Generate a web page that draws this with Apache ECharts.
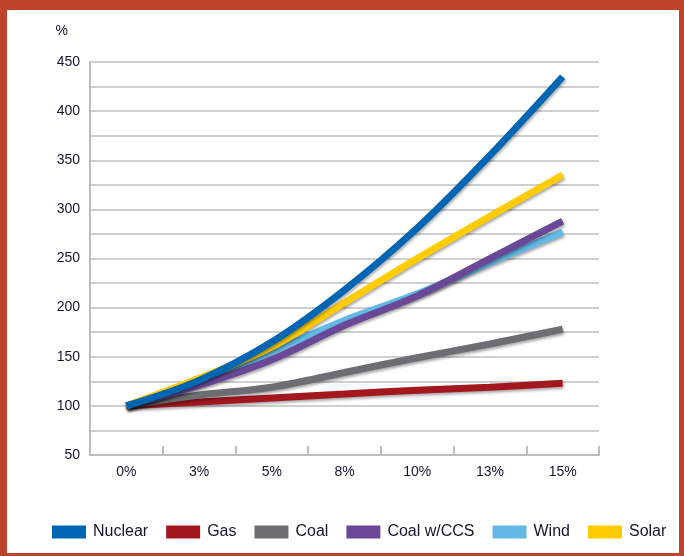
<!DOCTYPE html>
<html>
<head>
<meta charset="utf-8">
<script src="https://cdn.jsdelivr.net/npm/echarts@6/dist/echarts.min.js"></script>
<style>
html,body{margin:0;padding:0;width:684px;height:556px;background:#BF432A;overflow:hidden;}
#chart{position:absolute;left:7px;top:10px;width:672px;height:543px;background:#fff;}
</style>
</head>
<body>
<div id="chart"></div>
<script>
const categories = ['0%', '3%', '5%', '8%', '10%', '13%', '15%'];
const nuclear = [100, 126, 165, 218, 281, 355, 435];
const gas = [100, 104, 108, 112, 116, 119, 123];
const coal = [100, 111, 119, 134, 149, 163, 178];
const coalCCS = [100, 121, 147, 182, 212, 250, 288];
const wind = [100, 123, 155, 187, 214, 246, 277];
const solar = [100, 128, 160, 205, 250, 293, 335];
const yTicks = [50, 100, 150, 200, 250, 300, 350, 400, 450];

const legendOrder = ['Nuclear', 'Gas', 'Coal', 'Coal w/CCS', 'Wind', 'Solar'];
const colors = {
  'Nuclear': '#0066B3',
  'Gas': '#A3171F',
  'Coal': '#6D6E71',
  'Coal w/CCS': '#6A4897',
  'Wind': '#62B9E6',
  'Solar': '#FFCC00'
};
// drawing order (bottom to top)
const drawOrder = [
  ['Gas', gas], ['Coal', coal], ['Wind', wind], ['Coal w/CCS', coalCCS], ['Solar', solar], ['Nuclear', nuclear]
];

const font = '"Liberation Sans", Arial, sans-serif';
const txt = '#15152e';
const chart = echarts.init(document.getElementById('chart'), null, {renderer: 'canvas'});
chart.setOption({
  animation: false,
  color: legendOrder.map(n => colors[n]),
  grid: {left: 83, right: 80, top: 52, bottom: 98, containLabel: false},
  legend: {
    data: legendOrder,
    left: 45,
    top: 514,
    padding: 0,
    itemWidth: 34,
    itemHeight: 13,
    itemGap: 18,
    icon: 'rect',
    textStyle: {fontFamily: font, fontSize: 16, color: txt, padding: [0, 0, 0, 2]}
  },
  xAxis: {
    type: 'category',
    data: categories,
    boundaryGap: true,
    axisLine: {show: true, lineStyle: {color: '#bdbdbd', width: 2}},
    axisTick: {show: true, inside: true, length: 9, lineStyle: {color: '#bdbdbd', width: 2}},
    axisLabel: {fontFamily: font, fontSize: 14, color: txt, margin: 10},
    splitLine: {show: false}
  },
  yAxis: {
    type: 'value',
    min: 50,
    max: 450,
    interval: 25,
    name: '%',
    nameLocation: 'end',
    nameGap: 24,
    nameTextStyle: {fontFamily: font, fontSize: 14, color: txt, align: 'right', padding: [0, 22, 0, 0]},
    axisLine: {show: true, lineStyle: {color: '#bdbdbd', width: 2}},
    axisTick: {show: false},
    axisLabel: {
      fontFamily: font, fontSize: 14, color: txt, margin: 10,
      formatter: v => (yTicks.indexOf(v) >= 0 ? String(v) : '')
    },
    splitLine: {show: true, lineStyle: {color: '#cfcfcf', width: 2}}
  },
  series: drawOrder.map(([name, data]) => ({
    name: name,
    type: 'line',
    data: data,
    smooth: 0.35,
    showSymbol: false,
    symbol: 'none',
    itemStyle: {color: colors[name]},
    lineStyle: {
      color: colors[name], width: 7,
      shadowColor: 'rgba(0,0,0,0.35)', shadowBlur: 3, shadowOffsetX: 1, shadowOffsetY: 2
    }
  }))
});
</script>
</body>
</html>
